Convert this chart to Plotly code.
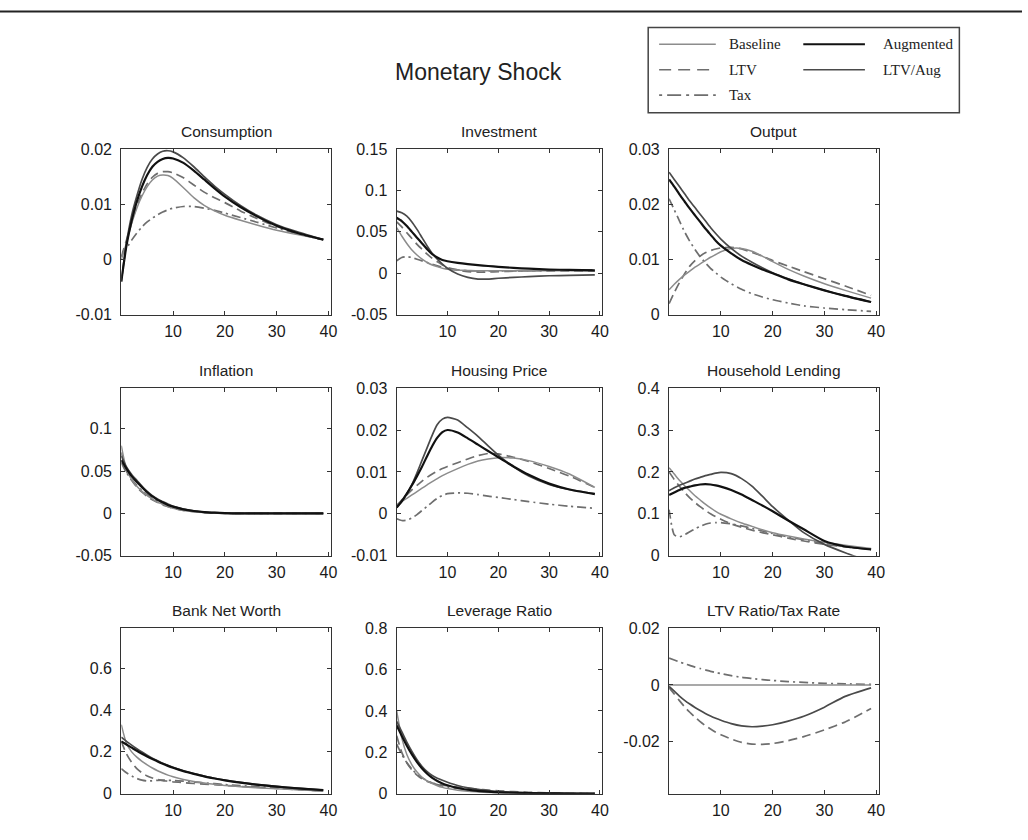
import plotly.graph_objects as go

W, H = 1028, 840

# Shared horizon (quarters)
T = [0, 1, 2, 3, 4, 5, 6, 7, 8, 9, 10, 12, 14, 16, 18, 20, 23, 26, 30, 34, 39]

SERIES = ["Baseline", "Augmented", "LTV", "LTV/Aug", "Tax"]

# ---- Consumption
cons_base = [0.0, 0.003, 0.0065, 0.0093, 0.0115, 0.0132, 0.0144, 0.0151, 0.0153, 0.0152, 0.0147, 0.0130, 0.0112, 0.0098, 0.0088, 0.0080, 0.0071, 0.0063, 0.0053, 0.0045, 0.0036]
cons_aug = [-0.004, 0.0025, 0.007, 0.0105, 0.0132, 0.0153, 0.0168, 0.0177, 0.0182, 0.0184, 0.0183, 0.0175, 0.0161, 0.0145, 0.0129, 0.0114, 0.0095, 0.0079, 0.0061, 0.0048, 0.0036]
cons_ltv = [0.0005, 0.0035, 0.0068, 0.0097, 0.0120, 0.0137, 0.0149, 0.0156, 0.0159, 0.0159, 0.0157, 0.0148, 0.0135, 0.0122, 0.0112, 0.0103, 0.0088, 0.0075, 0.0060, 0.0048, 0.0036]
cons_ltvaug = [-0.004, 0.003, 0.008, 0.0115, 0.0145, 0.0167, 0.0182, 0.0191, 0.0196, 0.0197, 0.0195, 0.0184, 0.0168, 0.0150, 0.0133, 0.0118, 0.0098, 0.0081, 0.0063, 0.0050, 0.0036]
cons_tax = [0.0005, 0.002, 0.0035, 0.0048, 0.0059, 0.0068, 0.0075, 0.0081, 0.0086, 0.0090, 0.0093, 0.0096, 0.0096, 0.0093, 0.0089, 0.0084, 0.0076, 0.0068, 0.0057, 0.0047, 0.0035]

# ---- Investment
inv_base = [0.055, 0.045, 0.036, 0.028, 0.022, 0.017, 0.013, 0.010, 0.008, 0.006, 0.005, 0.004, 0.0035, 0.003, 0.003, 0.003, 0.003, 0.003, 0.003, 0.003, 0.003]
inv_aug = [0.067, 0.063, 0.057, 0.050, 0.043, 0.036, 0.029, 0.023, 0.019, 0.016, 0.0145, 0.0125, 0.011, 0.0098, 0.0088, 0.0078, 0.0065, 0.0055, 0.0045, 0.0040, 0.0035]
inv_ltv = [0.062, 0.056, 0.049, 0.042, 0.035, 0.029, 0.023, 0.018, 0.014, 0.010, 0.007, 0.004, 0.002, 0.0015, 0.0015, 0.002, 0.0025, 0.003, 0.003, 0.003, 0.003]
inv_ltvaug = [0.075, 0.073, 0.069, 0.062, 0.053, 0.043, 0.033, 0.024, 0.017, 0.011, 0.006, -0.001, -0.005, -0.007, -0.007, -0.006, -0.005, -0.004, -0.003, -0.0025, -0.002]
inv_tax = [0.015, 0.019, 0.020, 0.019, 0.017, 0.015, 0.013, 0.011, 0.009, 0.007, 0.0055, 0.004, 0.003, 0.003, 0.003, 0.003, 0.003, 0.003, 0.0035, 0.004, 0.004]

# ---- Output
out_base = [0.0045, 0.0055, 0.0064, 0.0072, 0.0079, 0.0086, 0.0092, 0.0098, 0.0104, 0.0109, 0.0114, 0.0120, 0.0120, 0.0115, 0.0106, 0.0096, 0.0082, 0.0070, 0.0056, 0.0044, 0.0030]
out_aug = [0.0245, 0.0232, 0.0218, 0.0205, 0.0192, 0.0180, 0.0168, 0.0156, 0.0145, 0.0134, 0.0125, 0.0111, 0.0099, 0.0090, 0.0082, 0.0075, 0.0064, 0.0055, 0.0044, 0.0034, 0.0023]
out_ltv = [0.0020, 0.0040, 0.0058, 0.0074, 0.0088, 0.0098, 0.0106, 0.0112, 0.0116, 0.0119, 0.0121, 0.0122, 0.0119, 0.0113, 0.0106, 0.0098, 0.0088, 0.0078, 0.0065, 0.0052, 0.0035]
out_ltvaug = [0.0258, 0.0245, 0.0232, 0.0219, 0.0206, 0.0194, 0.0182, 0.0170, 0.0158, 0.0147, 0.0137, 0.0120, 0.0106, 0.0095, 0.0085, 0.0076, 0.0065, 0.0055, 0.0044, 0.0034, 0.0023]
out_tax = [0.0210, 0.0190, 0.0170, 0.0150, 0.0133, 0.0118, 0.0105, 0.0094, 0.0084, 0.0076, 0.0068, 0.0056, 0.0046, 0.0038, 0.0032, 0.0027, 0.0021, 0.0016, 0.0012, 0.0009, 0.0006]

# ---- Inflation
infl_base = [0.080, 0.052, 0.040, 0.032, 0.026, 0.021, 0.017, 0.013, 0.011, 0.008, 0.006, 0.0035, 0.002, 0.001, 0.0005, 0.0, 0.0, 0.0, 0.0, 0.0, 0.0]
infl_aug = [0.063, 0.053, 0.044, 0.037, 0.031, 0.025, 0.020, 0.016, 0.013, 0.010, 0.008, 0.0048, 0.0028, 0.0015, 0.0008, 0.0003, 0.0, 0.0, 0.0, 0.0, 0.0]
infl_ltv = [0.072, 0.050, 0.039, 0.031, 0.025, 0.020, 0.016, 0.013, 0.010, 0.008, 0.006, 0.0035, 0.002, 0.001, 0.0005, 0.0, 0.0, 0.0, 0.0, 0.0, 0.0]
infl_ltvaug = [0.068, 0.055, 0.046, 0.039, 0.032, 0.026, 0.021, 0.017, 0.014, 0.011, 0.0085, 0.005, 0.003, 0.0015, 0.0008, 0.0003, 0.0, 0.0, 0.0, 0.0, 0.0]
infl_tax = [0.060, 0.048, 0.040, 0.033, 0.027, 0.022, 0.018, 0.014, 0.011, 0.009, 0.007, 0.004, 0.0025, 0.0012, 0.0006, 0.0002, 0.0, 0.0, 0.0, 0.0, 0.0]

# ---- Housing Price
hp_base = [0.002, 0.0029, 0.0037, 0.0045, 0.0053, 0.0061, 0.0069, 0.0077, 0.0084, 0.0091, 0.0097, 0.0108, 0.0118, 0.0126, 0.0131, 0.0134, 0.0133, 0.0127, 0.0113, 0.0095, 0.0063]
hp_aug = [0.0015, 0.003, 0.0048, 0.0068, 0.009, 0.0113, 0.0138, 0.0162, 0.0182, 0.0195, 0.0200, 0.0194, 0.0180, 0.0165, 0.0150, 0.0135, 0.0113, 0.0093, 0.0072, 0.0058, 0.0047]
hp_ltv = [0.002, 0.0033, 0.0045, 0.0057, 0.0068, 0.0078, 0.0087, 0.0095, 0.0102, 0.0108, 0.0113, 0.0122, 0.0131, 0.0139, 0.0144, 0.0143, 0.0135, 0.0125, 0.0108, 0.0090, 0.0063]
hp_ltvaug = [0.0015, 0.003, 0.0048, 0.007, 0.0098, 0.0128, 0.0158, 0.0188, 0.0213, 0.0226, 0.0230, 0.0224, 0.0205, 0.0185, 0.0162, 0.0140, 0.0112, 0.0090, 0.0070, 0.0058, 0.0048]
hp_tax = [-0.0012, -0.0016, -0.0015, -0.001, -0.0002, 0.0008, 0.0018, 0.0028, 0.0037, 0.0044, 0.0048, 0.0050, 0.0049, 0.0046, 0.0042, 0.0039, 0.0034, 0.0029, 0.0023, 0.0018, 0.0013]

# ---- Household Lending
hl_base = [0.21, 0.195, 0.180, 0.167, 0.155, 0.143, 0.133, 0.123, 0.114, 0.106, 0.099, 0.088, 0.078, 0.070, 0.062, 0.055, 0.047, 0.040, 0.032, 0.025, 0.017]
hl_aug = [0.145, 0.151, 0.157, 0.162, 0.165, 0.168, 0.170, 0.171, 0.170, 0.168, 0.165, 0.157, 0.146, 0.133, 0.120, 0.106, 0.084, 0.063, 0.035, 0.022, 0.015]
hl_ltv = [0.20, 0.182, 0.166, 0.151, 0.138, 0.127, 0.117, 0.108, 0.100, 0.093, 0.087, 0.076, 0.068, 0.061, 0.055, 0.050, 0.042, 0.035, 0.027, 0.021, 0.015]
hl_ltvaug = [0.155, 0.162, 0.168, 0.173, 0.178, 0.183, 0.187, 0.191, 0.194, 0.197, 0.199, 0.196, 0.184, 0.166, 0.142, 0.117, 0.085, 0.055, 0.027, 0.007, -0.015]
hl_tax = [0.11, 0.05, 0.045, 0.050, 0.057, 0.064, 0.070, 0.075, 0.078, 0.079, 0.079, 0.076, 0.071, 0.065, 0.059, 0.053, 0.045, 0.038, 0.029, 0.022, 0.015]

# ---- Bank Net Worth
bnw_base = [0.33, 0.24, 0.20, 0.175, 0.155, 0.138, 0.123, 0.110, 0.099, 0.089, 0.081, 0.068, 0.058, 0.051, 0.045, 0.040, 0.034, 0.029, 0.024, 0.019, 0.013]
bnw_aug = [0.25, 0.235, 0.220, 0.205, 0.191, 0.178, 0.166, 0.154, 0.143, 0.133, 0.124, 0.108, 0.095, 0.083, 0.073, 0.064, 0.053, 0.044, 0.034, 0.026, 0.017]
bnw_ltv = [0.25, 0.19, 0.15, 0.12, 0.10, 0.085, 0.075, 0.068, 0.063, 0.060, 0.057, 0.053, 0.049, 0.046, 0.043, 0.040, 0.035, 0.031, 0.026, 0.020, 0.013]
bnw_ltvaug = [0.27, 0.25, 0.232, 0.215, 0.199, 0.184, 0.170, 0.158, 0.146, 0.136, 0.126, 0.110, 0.096, 0.084, 0.074, 0.065, 0.054, 0.045, 0.035, 0.027, 0.018]
bnw_tax = [0.12, 0.10, 0.085, 0.073, 0.065, 0.061, 0.062, 0.064, 0.065, 0.064, 0.063, 0.060, 0.056, 0.052, 0.048, 0.044, 0.039, 0.034, 0.027, 0.021, 0.014]

# ---- Leverage Ratio
lev_base = [0.40, 0.27, 0.19, 0.14, 0.105, 0.080, 0.062, 0.049, 0.039, 0.031, 0.025, 0.017, 0.012, 0.009, 0.006, 0.005, 0.003, 0.002, 0.001, 0.001, 0.0]
lev_aug = [0.33, 0.28, 0.232, 0.19, 0.153, 0.122, 0.097, 0.077, 0.062, 0.050, 0.041, 0.028, 0.020, 0.014, 0.010, 0.007, 0.005, 0.003, 0.002, 0.001, 0.001]
lev_ltv = [0.28, 0.20, 0.15, 0.115, 0.09, 0.072, 0.060, 0.052, 0.046, 0.042, 0.038, 0.032, 0.027, 0.022, 0.018, 0.014, 0.010, 0.007, 0.004, 0.002, 0.001]
lev_ltvaug = [0.35, 0.30, 0.25, 0.205, 0.165, 0.132, 0.107, 0.088, 0.075, 0.065, 0.056, 0.040, 0.029, 0.021, 0.015, 0.011, 0.007, 0.005, 0.003, 0.002, 0.001]
lev_tax = [0.24, 0.19, 0.15, 0.12, 0.095, 0.077, 0.063, 0.052, 0.044, 0.038, 0.033, 0.026, 0.020, 0.015, 0.012, 0.009, 0.006, 0.004, 0.002, 0.001, 0.001]

# ---- LTV Ratio / Tax Rate (no policy instrument in Baseline / Augmented)
pol_base = [0.0] * len(T)
pol_aug = None
pol_ltv = [-0.001, -0.0032, -0.0055, -0.0077, -0.0096, -0.0113, -0.0129, -0.0143, -0.0155, -0.0166, -0.0175, -0.0190, -0.0202, -0.0208, -0.0209, -0.0206, -0.0196, -0.0182, -0.0158, -0.0130, -0.0083]
pol_ltvaug = [-0.0005, -0.0022, -0.0039, -0.0054, -0.0067, -0.0079, -0.0090, -0.0100, -0.0109, -0.0117, -0.0124, -0.0136, -0.0144, -0.0147, -0.0145, -0.0140, -0.0127, -0.0110, -0.0078, -0.0040, -0.0010]
pol_tax = [0.0095, 0.0088, 0.0081, 0.0075, 0.0069, 0.0063, 0.0058, 0.0053, 0.0048, 0.0044, 0.0040, 0.0033, 0.0027, 0.0023, 0.0019, 0.0016, 0.0012, 0.0009, 0.0006, 0.0004, 0.0002]

PANEL_TITLES = ["Consumption", "Investment", "Output",
                "Inflation", "Housing Price", "Household Lending",
                "Bank Net Worth", "Leverage Ratio", "LTV Ratio/Tax Rate"]

Y_TICKS = [
    ["-0.01", "0", "0.01", "0.02"],
    ["-0.05", "0", "0.05", "0.1", "0.15"],
    ["0", "0.01", "0.02", "0.03"],
    ["-0.05", "0", "0.05", "0.1"],
    ["-0.01", "0", "0.01", "0.02", "0.03"],
    ["0", "0.1", "0.2", "0.3", "0.4"],
    ["0", "0.2", "0.4", "0.6"],
    ["0", "0.2", "0.4", "0.6", "0.8"],
    ["-0.02", "0", "0.02"],
]
Y_RANGES = [[-0.01, 0.02], [-0.05, 0.15], [0, 0.03],
            [-0.05, 0.148], [-0.01, 0.03], [0, 0.4],
            [0, 0.79], [0, 0.8], [-0.0383, 0.02]]
X_TICKS = ["10", "20", "30", "40"]

PANEL_DATA = [
    [cons_base, cons_aug, cons_ltv, cons_ltvaug, cons_tax],
    [inv_base, inv_aug, inv_ltv, inv_ltvaug, inv_tax],
    [out_base, out_aug, out_ltv, out_ltvaug, out_tax],
    [infl_base, infl_aug, infl_ltv, infl_ltvaug, infl_tax],
    [hp_base, hp_aug, hp_ltv, hp_ltvaug, hp_tax],
    [hl_base, hl_aug, hl_ltv, hl_ltvaug, hl_tax],
    [bnw_base, bnw_aug, bnw_ltv, bnw_ltvaug, bnw_tax],
    [lev_base, lev_aug, lev_ltv, lev_ltvaug, lev_tax],
    [pol_base, pol_aug, pol_ltv, pol_ltvaug, pol_tax],
]

STYLE = {
    "Baseline": dict(color="#8c8c8c", width=1.5, dash="solid"),
    "Augmented": dict(color="#111111", width=2.2, dash="solid"),
    "LTV": dict(color="#6e6e6e", width=1.7, dash="9px,5px"),
    "LTV/Aug": dict(color="#4a4a4a", width=1.7, dash="solid"),
    "Tax": dict(color="#6e6e6e", width=1.7, dash="9px,4px,2px,4px"),
}
DRAW_ORDER = ["Tax", "LTV", "Baseline", "LTV/Aug", "Augmented"]

# plot-box pixel geometry
COLS = [(122, 333), (399, 606), (673, 884)]
ROWS = [(144, 313), (388, 559), (633, 802)]

FONT = "Liberation Sans, Arial, Helvetica, sans-serif"
SERIF = "Liberation Serif, Times New Roman, serif"

fig = go.Figure()
layout = dict(
    width=W, height=H, margin=dict(l=0, r=0, t=0, b=0),
    paper_bgcolor="white", plot_bgcolor="white", showlegend=False,
    font=dict(family=FONT, size=16, color="#222"),
)
annotations = []
shapes = []

for i, title in enumerate(PANEL_TITLES):
    r, c = divmod(i, 3)
    x0, x1 = COLS[c]
    y0, y1 = ROWS[r]
    ax = "" if i == 0 else str(i + 1)
    xa, ya = "x" + ax, "y" + ax
    for name in DRAW_ORDER:
        vals = PANEL_DATA[i][SERIES.index(name)]
        if vals is None:
            continue
        st = STYLE[name]
        fig.add_trace(go.Scatter(
            x=T, y=vals, mode="lines", name=name, xaxis=xa, yaxis=ya,
            line=dict(color=st["color"], width=st["width"], dash=st["dash"],
                      shape="spline", smoothing=0.6),
            hoverinfo="skip"))
    common = dict(showline=True, linecolor="#333", linewidth=1.2, mirror="ticks",
                  ticks="inside", ticklen=4, tickcolor="#333", showgrid=False,
                  zeroline=False, tickfont=dict(family=FONT, size=16, color="#1a1a1a"))
    layout["xaxis" + ax] = dict(
        domain=[x0 / W, x1 / W], anchor=ya, range=[0, 40.5],
        tickmode="array", tickvals=[float(t) for t in X_TICKS], ticktext=X_TICKS,
        ticklabelstandoff=2, **common)
    layout["yaxis" + ax] = dict(
        domain=[1 - y1 / H, 1 - y0 / H], anchor=xa, range=Y_RANGES[i],
        tickmode="array", tickvals=[float(t) for t in Y_TICKS[i]], ticktext=Y_TICKS[i],
        ticklabelstandoff=5, **common)
    annotations.append(dict(
        text=title, x=(x0 + x1) / 2 / W, y=1 - (y0 - 18) / H, xref="paper", yref="paper",
        xanchor="center", yanchor="middle", showarrow=False,
        font=dict(family=FONT, size=15.5, color="#222")))

# main title
annotations.append(dict(text="Monetary Shock", x=481 / W, y=1 - 65 / H, xref="paper", yref="paper",
                        xanchor="center", yanchor="middle", showarrow=False,
                        font=dict(family=FONT, size=23, color="#222")))

# top rule
shapes.append(dict(type="line", xref="paper", yref="paper", x0=0, x1=1,
                   y0=1 - 3.5 / H, y1=1 - 3.5 / H, line=dict(color="#222", width=2)))

# legend box
shapes.append(dict(type="rect", xref="paper", yref="paper",
                   x0=652 / W, x1=965 / W, y0=1 - 107 / H, y1=1 - 20 / H,
                   line=dict(color="#444", width=1.5), fillcolor="white"))
LEG_POS = {
    "Baseline": (663, 720, 731, 37),
    "Augmented": (808, 870, 886, 37),
    "LTV": (663, 720, 731, 63),
    "LTV/Aug": (808, 870, 886, 63),
    "Tax": (663, 720, 731, 89),
}
for name in SERIES:
    lx0, lx1, tx, ly = LEG_POS[name]
    st = STYLE[name]
    dash = st["dash"]
    if name == "LTV":
        dash = "12px,7px"
    if name == "Tax":
        dash = "3px,5px,14px,5px"
    shapes.append(dict(type="line", xref="paper", yref="paper",
                       x0=lx0 / W, x1=lx1 / W, y0=1 - ly / H, y1=1 - ly / H,
                       line=dict(color=st["color"], width=st["width"], dash=dash)))
    annotations.append(dict(text=name, x=tx / W, y=1 - ly / H, xref="paper", yref="paper",
                            xanchor="left", yanchor="middle", showarrow=False,
                            font=dict(family=SERIF, size=15, color="#222")))

layout["annotations"] = annotations
layout["shapes"] = shapes
fig.update_layout(**layout)
fig.write_html("out.html")
